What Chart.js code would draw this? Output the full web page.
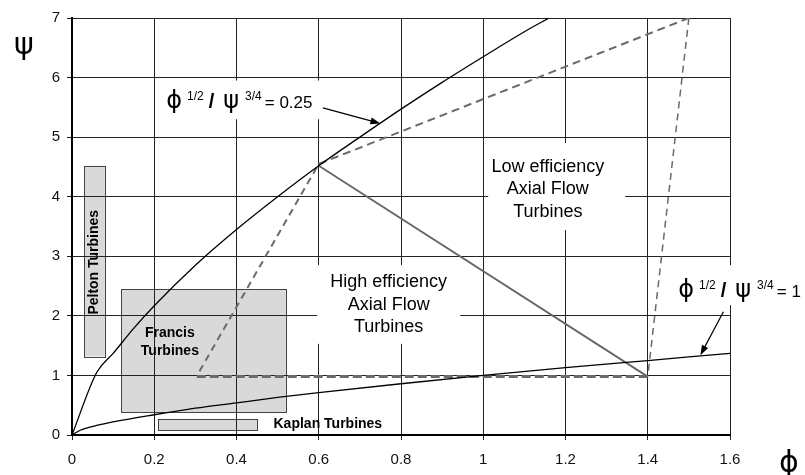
<!DOCTYPE html>
<html>
<head>
<meta charset="utf-8">
<script src="https://cdn.jsdelivr.net/npm/chart.js@4.4.1/dist/chart.umd.min.js"></script>
<style>
html, body { margin: 0; padding: 0; background: #fff; }
</style>
</head>
<body>
<canvas id="chart" width="805" height="475"></canvas>
<script>
// axis ticks
const xTicks = [0, 0.2, 0.4, 0.6, 0.8, 1.0, 1.2, 1.4, 1.6];
const xTickLabels = ['0', '0.2', '0.4', '0.6', '0.8', '1', '1.2', '1.4', '1.6'];
const yTicks = [0, 1, 2, 3, 4, 5, 6, 7];
const yTickLabels = ['0', '1', '2', '3', '4', '5', '6', '7'];

// phi^1/2 / psi^3/4 = 0.25
const phiCurveA = [0, 0.06, 0.1, 0.15, 0.2, 0.3, 0.4, 0.5, 0.6, 0.7, 0.8, 0.9, 1.0, 1.1, 1.16];
const psiCurveA = [0, 1.05, 1.37, 1.79, 2.17, 2.85, 3.45, 4.0, 4.52, 5.0, 5.47, 5.92, 6.35, 6.77, 7.0];

// phi^1/2 / psi^3/4 = 1
const phiCurveB = [0, 0.02, 0.06, 0.1, 0.2, 0.3, 0.4, 0.5, 0.6, 0.8, 1.0, 1.2, 1.4, 1.6];
const psiCurveB = [0, 0.08, 0.16, 0.22, 0.34, 0.45, 0.54, 0.63, 0.71, 0.86, 1.0, 1.13, 1.25, 1.37];

// axial flow turbine boundary (dashed) and the high/low efficiency divider
const boundPhi = [0.31, 0.6, 1.5, 1.4, 0.3];
const boundPsi = [1.07, 4.55, 7.0, 0.98, 0.98];
const dividerPhi = [0.6, 1.4];
const dividerPsi = [4.52, 0.98];

// turbine regions [min, max]
const turbineNames = ['Pelton Turbines', 'Francis Turbines', 'Kaplan Turbines'];
const turbinePhi = [[0.03, 0.08], [0.12, 0.52], [0.21, 0.45]];
const turbinePsi = [[1.32, 4.52], [0.38, 2.45], [0.08, 0.27]];

const pts = (xs, ys) => xs.map((x, i) => ({ x: x, y: ys[i] }));

const segStyle = [
  { w: 2, dash: [7, 5] },
  { w: 2, dash: [8, 5] },
  { w: 1.5, dash: [7, 5] },
  { w: 3, dash: [9, 4] }
];

const datasets = [
  { data: pts(phiCurveA, psiCurveA), borderColor: '#000', borderWidth: 1.3, cubicInterpolationMode: 'monotone' },
  { data: pts(phiCurveB, psiCurveB), borderColor: '#000', borderWidth: 1.3, cubicInterpolationMode: 'monotone' },
  { data: pts(dividerPhi, dividerPsi), borderColor: '#666', borderWidth: 1.8 }
];
segStyle.forEach((s, i) => {
  datasets.push({
    data: pts(boundPhi.slice(i, i + 2), boundPsi.slice(i, i + 2)),
    borderColor: '#6a6a6a', borderWidth: s.w, borderDash: s.dash
  });
});
datasets.forEach(d => { d.pointRadius = 0; d.fill = false; });

const SANS = "'Liberation Sans', Arial, sans-serif";
const GREEK = "'DejaVu Sans', sans-serif";

// white boxes behind the text labels, in data units [x0, x1, y0, y1]
const labelBoxes = [
  [0.214, 0.62, 5.30, 5.95],
  [1.012, 1.345, 3.44, 4.90],
  [0.596, 0.944, 1.53, 2.85],
  [1.474, 1.80, 2.18, 2.85]
];

function drawFormula(ctx, x, y, tail) {
  const parts = [
    { t: '\u03D5', f: '24px ' + GREEK, dy: 0, gap: 5 },
    { t: '1/2', f: '12px ' + SANS, dy: -8, gap: 5 },
    { t: '/', f: 'bold 20px ' + SANS, dy: 0, gap: 9 },
    { t: '\u03C8', f: '24px ' + GREEK, dy: 0, gap: 6 },
    { t: '3/4', f: '12px ' + SANS, dy: -8, gap: 3 },
    { t: tail, f: '17px ' + SANS, dy: 0, gap: 0 }
  ];
  ctx.textBaseline = 'alphabetic';
  ctx.textAlign = 'left';
  let cx = x;
  parts.forEach(p => {
    ctx.font = p.f;
    ctx.fillText(p.t, cx, y + p.dy);
    cx += ctx.measureText(p.t).width + p.gap;
  });
}

function arrow(ctx, x0, y0, x1, y1) {
  const a = Math.atan2(y1 - y0, x1 - x0);
  ctx.beginPath();
  ctx.moveTo(x0, y0);
  ctx.lineTo(x1 - 8 * Math.cos(a), y1 - 8 * Math.sin(a));
  ctx.strokeStyle = '#000';
  ctx.lineWidth = 1.2;
  ctx.stroke();
  ctx.beginPath();
  ctx.moveTo(x1, y1);
  ctx.lineTo(x1 - 10 * Math.cos(a) + 3.5 * Math.sin(a), y1 - 10 * Math.sin(a) - 3.5 * Math.cos(a));
  ctx.lineTo(x1 - 10 * Math.cos(a) - 3.5 * Math.sin(a), y1 - 10 * Math.sin(a) + 3.5 * Math.cos(a));
  ctx.closePath();
  ctx.fillStyle = '#000';
  ctx.fill();
}

const decor = {
  id: 'decor',
  beforeDraw(chart) {
    const { ctx, scales: { x, y } } = chart;
    ctx.save();
    turbinePhi.forEach((r, i) => {
      const x0 = x.getPixelForValue(r[0]), x1 = x.getPixelForValue(r[1]);
      const y0 = y.getPixelForValue(turbinePsi[i][1]), y1 = y.getPixelForValue(turbinePsi[i][0]);
      ctx.fillStyle = '#d9d9d9';
      ctx.fillRect(x0, y0, x1 - x0, y1 - y0);
      ctx.strokeStyle = '#444';
      ctx.lineWidth = 1;
      ctx.strokeRect(Math.round(x0) + 0.5, Math.round(y0) + 0.5, Math.round(x1 - x0), Math.round(y1 - y0));
    });
    ctx.restore();
  },
  beforeDatasetsDraw(chart) {
    const { ctx, scales: { x, y } } = chart;
    ctx.save();
    ctx.fillStyle = '#fff';
    labelBoxes.forEach(b => {
      const x0 = x.getPixelForValue(b[0]), x1 = x.getPixelForValue(b[1]);
      const y0 = y.getPixelForValue(b[3]), y1 = y.getPixelForValue(b[2]);
      ctx.fillRect(x0, y0, x1 - x0, y1 - y0);
    });
    ctx.restore();
  },
  afterDatasetsDraw(chart) {
    const { ctx, scales: { x, y }, chartArea } = chart;
    ctx.save();
    ctx.fillStyle = '#000';

    // turbine names
    ctx.font = 'bold 14px ' + SANS;
    ctx.textAlign = 'center';
    ctx.textBaseline = 'middle';
    ctx.save();
    ctx.translate(x.getPixelForValue((turbinePhi[0][0] + turbinePhi[0][1]) / 2), y.getPixelForValue(2.9));
    ctx.rotate(-Math.PI / 2);
    ctx.fillText(turbineNames[0], 0, 0);
    ctx.restore();
    const fx = x.getPixelForValue(0.238);
    const fw = turbineNames[1].split(' ');
    ctx.fillText(fw[0], fx, y.getPixelForValue(1.71));
    ctx.fillText(fw[1], fx, y.getPixelForValue(1.40));
    ctx.textAlign = 'left';
    ctx.fillText(turbineNames[2], x.getPixelForValue(0.49), y.getPixelForValue(0.18));

    // region labels
    ctx.font = '18px ' + SANS;
    ctx.textAlign = 'center';
    ['Low efficiency', 'Axial Flow', 'Turbines'].forEach((t, i) => {
      ctx.fillText(t, x.getPixelForValue(1.157), y.getPixelForValue(4.5 - i * 0.375));
    });
    ['High efficiency', 'Axial Flow', 'Turbines'].forEach((t, i) => {
      ctx.fillText(t, x.getPixelForValue(0.77), y.getPixelForValue(2.56 - i * 0.375));
    });

    // curve formulas with leader arrows
    drawFormula(ctx, x.getPixelForValue(0.229), y.getPixelForValue(5.49), '= 0.25');
    arrow(ctx, x.getPixelForValue(0.61), y.getPixelForValue(5.49), x.getPixelForValue(0.75), y.getPixelForValue(5.23));
    drawFormula(ctx, x.getPixelForValue(1.474), y.getPixelForValue(2.32), '= 1');
    arrow(ctx, x.getPixelForValue(1.584), y.getPixelForValue(2.07), x.getPixelForValue(1.528), y.getPixelForValue(1.34));

    // axis symbols
    ctx.font = '30px ' + GREEK;
    ctx.textAlign = 'center';
    ctx.textBaseline = 'middle';
    ctx.fillText('\u03C8', chartArea.left - 48, chartArea.top + 28);
    ctx.fillText('\u03D5', chartArea.right + 59, chartArea.bottom + 29);
    ctx.restore();
  }
};

const gridStyle = { color: '#222', lineWidth: 1, tickLength: 5, drawTicks: true };
const borderStyle = { display: true, color: '#000', width: 2 };

new Chart(document.getElementById('chart'), {
  type: 'line',
  data: { datasets: datasets },
  options: {
    responsive: false,
    animation: false,
    layout: { padding: { left: 0, top: 18, right: 75, bottom: 0 } },
    plugins: { legend: { display: false }, tooltip: { enabled: false } },
    elements: { line: { tension: 0 } },
    scales: {
      x: {
        type: 'linear', min: 0, max: 1.6,
        afterBuildTicks: s => { s.ticks = xTicks.map(v => ({ value: v })); },
        afterFit: s => { s.height = 40; },
        ticks: { padding: 11, color: '#111', font: { family: SANS, size: 15 },
                 callback: (v, i) => xTickLabels[i] },
        grid: gridStyle, border: borderStyle
      },
      y: {
        type: 'linear', min: 0, max: 7,
        afterBuildTicks: s => { s.ticks = yTicks.map(v => ({ value: v })); },
        afterFit: s => { s.width = 72; },
        ticks: { padding: 7, color: '#111', font: { family: SANS, size: 15 },
                 callback: (v, i) => yTickLabels[i] },
        grid: gridStyle, border: borderStyle
      }
    }
  },
  plugins: [decor]
});
</script>
</body>
</html>
